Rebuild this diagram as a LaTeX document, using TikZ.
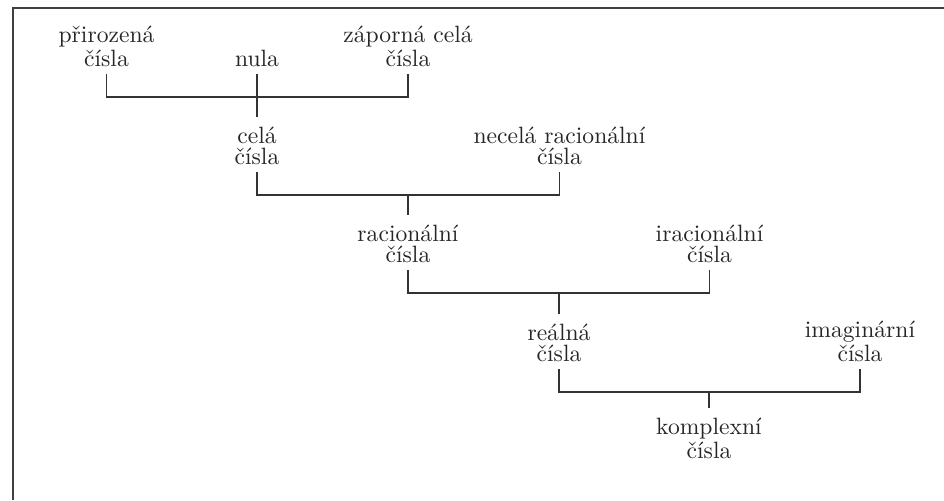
\documentclass[tikz,border=0pt]{standalone}
\usepackage{fontspec}
\usetikzlibrary{calc}
\begin{document}
\begin{tikzpicture}[x=0.4237pt,y=-0.4237pt,
  lbl/.style={align=center,inner sep=0pt,anchor=south,font=\fontsize{10pt}{8.8pt}\selectfont,text=black!85},
  conn/.style={line width=0.6pt,draw=black!80},
  frame/.style={line width=0.8pt,draw=black!75}]
\useasboundingbox (0,0) rectangle (944,500);
\draw[frame] (944,8) -- (13,8) -- (13,500);
% nodes
\node[lbl] (prir)   at (106.5,67) {přirozená\\čísla};
\node[lbl] (nula)   at (257,67)   {nula};
\node[lbl] (zap)    at (408,67)   {záporná celá\\čísla};
\node[lbl] (cela)   at (257,165)  {celá\\čísla};
\node[lbl] (necela) at (559.5,165) {necelá racionální\\čísla};
\node[lbl] (rac)    at (408,263)  {racionální\\čísla};
\node[lbl] (irac)   at (709.5,263) {iracionální\\čísla};
\node[lbl] (real)   at (559,362)  {reálná\\čísla};
\node[lbl] (imag)   at (860,362)  {imaginární\\čísla};
\node[lbl] (komp)   at (709,459)  {komplexní\\čísla};
% brackets
\draw[conn] ($(prir.south)+(0,7)$) |- ($(zap.south)+(0,30)$) -- ($(zap.south)+(0,7)$);
\draw[conn] ($(nula.south)+(0,7)$) -- ($(cela.north)+(0,-10)$);
\draw[conn] ($(cela.south)+(0,7)$) |- ($(necela.south)+(0,30)$) -- ($(necela.south)+(0,7)$);
\draw[conn] ($(rac.north |- cela.south)+(0,30)$) -- ($(rac.north)+(0,-10)$);
\draw[conn] ($(rac.south)+(0,7)$) |- ($(irac.south)+(0,30)$) -- ($(irac.south)+(0,7)$);
\draw[conn] ($(real.north |- rac.south)+(0,30)$) -- ($(real.north)+(0,-10)$);
\draw[conn] ($(real.south)+(0,7)$) |- ($(imag.south)+(0,30)$) -- ($(imag.south)+(0,7)$);
\draw[conn] ($(komp.north |- real.south)+(0,30)$) -- ($(komp.north)+(0,-10)$);
\end{tikzpicture}
\end{document}
